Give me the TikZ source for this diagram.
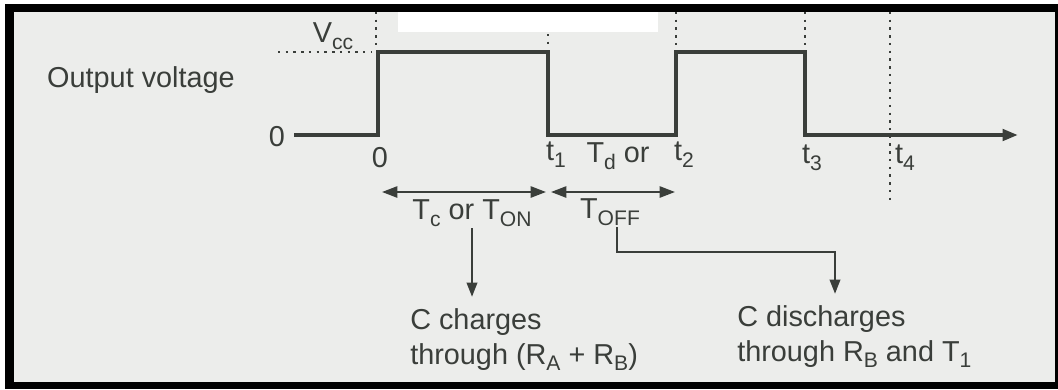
\documentclass[tikz,border=0pt]{standalone}
\usepackage{fontspec}
\setmainfont{Liberation Sans}
\usetikzlibrary{positioning, arrows.meta, calc}
\definecolor{paper}{HTML}{ECEDEB}
\definecolor{ink}{HTML}{3A3E3A}
\newcommand{\lowsub}[1]{\raisebox{-0.45ex}{\fontsize{15}{15}\selectfont #1}}
\tikzset{
    lbl/.style={inner sep=1pt, text=ink, font=\fontsize{20.5}{24.8}\selectfont},
    wave/.style={line width=3pt, draw=ink, line join=miter},
    guide/.style={draw=ink, line width=1.7pt, dash pattern=on 1.7pt off 3.8pt},
    span/.style={draw=ink, line width=1.5pt, {Triangle[length=11pt,width=8pt]}-{Triangle[length=11pt,width=8pt]}},
    pointer/.style={draw=ink, line width=1.3pt, -{Triangle[length=10pt,width=7.5pt]}}
}

\begin{document}
\begin{tikzpicture}[x=0.025cm, y=-0.025cm]
  \useasboundingbox (0,0) rectangle (1058,389);
  \fill[white] (0,0) rectangle (1058,389);
  \fill[black] (5,4) rectangle (1058,389);
  \fill[paper] (14,12) rectangle (1055,382);
  \fill[white] (398,12) rectangle (658,32);

  % corners of the wave
  \coordinate (w0) at (294,135);
  \coordinate (up1lo) at (378,135);  \coordinate (up1hi) at (378,52);
  \coordinate (dn1hi) at (548,52);   \coordinate (dn1lo) at (548,135);
  \coordinate (up2lo) at (676,135);  \coordinate (up2hi) at (676,52);
  \coordinate (dn2hi) at (805,52);   \coordinate (dn2lo) at (805,135);
  \coordinate (wend) at (1018,135);

  % dotted guides
  \draw[guide] (278,52) -- (372,52);
  \draw[guide] (376,12) -- (376,49);
  \draw[guide] (548,34) -- (548,49);
  \draw[guide] (676,12) -- (676,49);
  \draw[guide] (805,12) -- (805,49);
  \draw[guide] (890,12) -- (890,205);

  \draw[wave, -{Triangle[length=11pt,width=8pt]}] (w0) -- (up1lo) -- (up1hi) -- (dn1hi) -- (dn1lo)
      -- (up2lo) -- (up2hi) -- (dn2hi) -- (dn2lo) -- (wend);

  \node[lbl] (outv) at (141,80) {Output voltage};
  \node[lbl] (vcc)  at (333,36) {V\lowsub{cc}};
  \node[lbl] (zero) at (277,137) {0};
  \node[lbl] (t0)   at (380,158) {0};
  \node[lbl] (t1)   at (556,155) {t\lowsub{1}};
  \node[lbl] (t2)   at (684,155) {t\lowsub{2}};
  \node[lbl] (t3)   at (812,158) {t\lowsub{3}};
  \node[lbl] (t4)   at (905,158) {t\lowsub{4}};
  \node[lbl] (td)   at (618,156) {T\lowsub{d} or};

  % on and off spans
  \coordinate (a0) at (382,192); \coordinate (a1) at (546,192);
  \coordinate (a2) at (551,192); \coordinate (a3) at (675,192);
  \draw[span] (a0) -- (a1);
  \draw[span] (a2) -- (a3);

  \node[lbl] (ton)  at (472,213) {T\lowsub{c} or T\lowsub{ON}};
  \node[lbl] (toff) at (610,212) {T\lowsub{OFF}};

  \node[lbl, align=left, anchor=north west, inner sep=0pt] (chg) at (410,308)
      {C charges\\through (R\lowsub{A} + R\lowsub{B})};
  \node[lbl, align=left, anchor=north west, inner sep=0pt] (dis) at (737,305)
      {C discharges\\through R\lowsub{B} and T\lowsub{1}};

  \coordinate (knee) at (835,252);
  \draw[pointer, shorten >=8pt] (ton.south) -- (ton.south |- chg.north);
  \draw[pointer, shorten >=8pt] ([xshift=5pt]toff.south) |- (knee) -- (knee |- dis.north);
\end{tikzpicture}
\end{document}
